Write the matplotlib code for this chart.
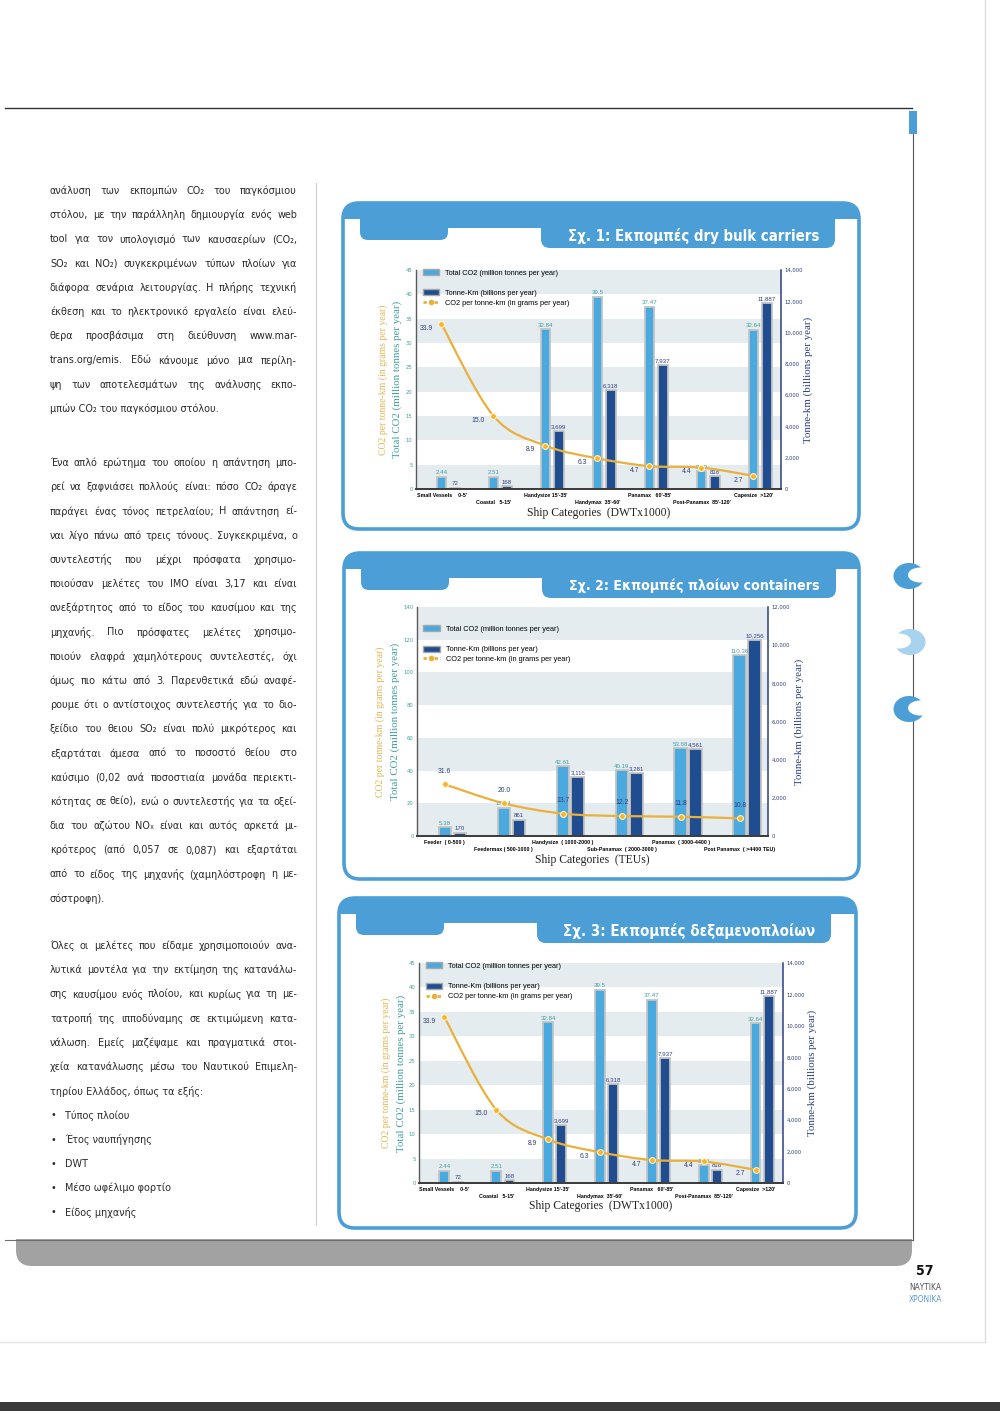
import os
import matplotlib
matplotlib.use('Agg')
import matplotlib.pyplot as plt
import matplotlib.font_manager as fm
import matplotlib.transforms as mtransforms
from matplotlib import ft2font
from matplotlib.patches import FancyBboxPatch, Rectangle, Ellipse, Patch, PathPatch
from matplotlib.lines import Line2D
from matplotlib.path import Path
import numpy as np

# ---- chart data ----
bulk_cats = ["Small Vessels    0-5'", "Coastal   5-15'", "Handysize 15'-35'", "Handymax  35'-60'",
             "Panamax   60'-85'", "Post-Panamax  85'-120'", "Capesize  >120'"]
bulk_total_co2 = [2.44, 2.51, 32.84, 39.5, 37.47, 3.63, 32.64]
bulk_tonne_km = [72, 168, 3699, 6318, 7937, 818, 11887]
bulk_co2_per_tkm = [33.9, 15.0, 8.9, 6.3, 4.7, 4.4, 2.7]

cont_cats = ["Feeder  ( 0-500 )", "Feedermax ( 500-1000 )", "Handysize  ( 1000-2000 )",
             "Sub-Panamax  ( 2000-3000 )", "Panamax  ( 3000-4400 )", "Post Panamax  ( >4400 TEU)"]
cont_total_co2 = [5.38, 17.24, 42.61, 40.19, 53.68, 110.36]
cont_tonne_km = [170, 861, 3116, 3281, 4561, 10256]
cont_co2_per_tkm = [31.6, 20.0, 13.7, 12.2, 11.8, 10.8]

tank_cats = list(bulk_cats)
tank_total_co2 = [2.44, 2.51, 32.84, 39.5, 37.47, 3.63, 32.64]
tank_tonne_km = [72, 168, 3699, 6318, 7937, 818, 11887]
tank_co2_per_tkm = [33.9, 15.0, 8.9, 6.3, 4.7, 4.4, 2.7]

legend_labels = ['Total CO2 (million tonnes per year)', 'Tonne-Km (billions per year)',
                 'CO2 per tonne-km (in grams per year)']

# ---- page text ----
par1 = ["ανάλυση των εκπομπών CO₂ του παγκόσμιου",
        "στόλου, με την παράλληλη δημιουργία ενός web",
        "tool για τον υπολογισμό των καυσαερίων (CO₂,",
        "SO₂ και NO₂) συγκεκριμένων τύπων πλοίων για",
        "διάφορα σενάρια λειτουργίας. Η πλήρης τεχνική",
        "έκθεση και το ηλεκτρονικό εργαλείο είναι ελεύ-",
        "θερα προσβάσιμα στη διεύθυνση www.mar-",
        "trans.org/emis. Εδώ κάνουμε μόνο μια περίλη-",
        "ψη των αποτελεσμάτων της ανάλυσης εκπο-",
        "μπών CO₂ του παγκόσμιου στόλου."]
par2 = ["Ένα απλό ερώτημα του οποίου η απάντηση μπο-",
        "ρεί να ξαφνιάσει πολλούς είναι: πόσο CO₂ άραγε",
        "παράγει ένας τόνος πετρελαίου; Η απάντηση εί-",
        "ναι λίγο πάνω από τρεις τόνους. Συγκεκριμένα, ο",
        "συντελεστής που μέχρι πρόσφατα χρησιμο-",
        "ποιούσαν μελέτες του ΙΜΟ είναι 3,17 και είναι",
        "ανεξάρτητος από το είδος του καυσίμου και της",
        "μηχανής. Πιο πρόσφατες μελέτες χρησιμο-",
        "ποιούν ελαφρά χαμηλότερους συντελεστές, όχι",
        "όμως πιο κάτω από 3. Παρενθετικά εδώ αναφέ-",
        "ρουμε ότι ο αντίστοιχος συντελεστής για το διο-",
        "ξείδιο του θειου SO₂ είναι πολύ μικρότερος και",
        "εξαρτάται άμεσα από το ποσοστό θείου στο",
        "καύσιμο (0,02 ανά ποσοστιαία μονάδα περιεκτι-",
        "κότητας σε θείο), ενώ ο συντελεστής για τα οξεί-",
        "δια του αζώτου NOₓ είναι και αυτός αρκετά μι-",
        "κρότερος (από 0,057 σε 0,087) και εξαρτάται",
        "από το είδος της μηχανής (χαμηλόστροφη η με-",
        "σόστροφη)."]
par3 = ["Όλες οι μελέτες που είδαμε χρησιμοποιούν ανα-",
        "λυτικά μοντέλα για την εκτίμηση της κατανάλω-",
        "σης καυσίμου ενός πλοίου, και κυρίως για τη με-",
        "τατροπή της ιπποδύναμης σε εκτιμώμενη κατα-",
        "νάλωση. Εμείς μαζέψαμε και πραγματικά στοι-",
        "χεία κατανάλωσης μέσω του Ναυτικού Επιμελη-",
        "τηρίου Ελλάδος, όπως τα εξής:"]
bullets = ["Τύπος πλοίου", "Έτος ναυπήγησης", "DWT", "Μέσο ωφέλιμο φορτίο", "Είδος μηχανής"]

# ---- fonts: a condensed face with Greek if one exists, else Liberation Sans ----
names = {f.name for f in fm.fontManager.ttflist}
SANS = 'Liberation Sans' if 'Liberation Sans' in names else 'DejaVu Sans'
SERIF = 'Liberation Serif' if 'Liberation Serif' in names else 'DejaVu Serif'


def has_greek(fname):
    try:
        cmap = ft2font.FT2Font(fname).get_charmap()
    except Exception:
        return False
    return ord('α') in cmap and ord('Ω') in cmap


def condensed_face(bold):
    found = []
    for f in fm.fontManager.ttflist:
        tag = f.name + ' ' + os.path.basename(f.fname)
        narrow = ('Narrow' in tag or 'Condensed' in tag or
                  str(f.stretch) in ('condensed', 'semi-condensed', 'extra-condensed', 'ultra-condensed'))
        if not narrow or f.style != 'normal' or 'Mono' in tag:
            continue
        w = f.weight if isinstance(f.weight, int) else fm.weight_dict.get(f.weight, 400)
        if bold != (w >= 600) or not has_greek(f.fname):
            continue
        found.append(f)
    if not found:
        return None
    f = found[0]
    return dict(family=[f.name, 'DejaVu Sans'], stretch=f.stretch, weight='bold' if bold else 'normal')


BODY = condensed_face(False) or dict(family=[SANS, 'DejaVu Sans'])
BOLD = condensed_face(True) or dict(family=[SANS, 'DejaVu Sans'], weight='bold')

FRAME = '#4b9fd6'
LIGHT = '#4aa9df'
DARK = '#1f4d8f'
BAR_EDGE = '#c4c4c4'
TEAL = '#3f9f9c'
GOLD = '#e2b656'
NAVY = '#2e3f7f'
ORANGE = '#e9b03c'
BAND = '#e5ecf0'
TXT = '#2a2a2a'

W, H = 1000, 1414
fig = plt.figure(figsize=(W / 100, H / 100), dpi=100)
fig.patch.set_facecolor('white')
pg = fig.add_axes([0, 0, 1, 1], zorder=0)
pg.set_xlim(0, W)
pg.set_ylim(H, 0)
pg.axis('off')
renderer = fig.canvas.get_renderer()


def px_rect(l, t, r, b):
    return [l / W, 1 - b / H, (r - l) / W, (b - t) / H]


def text_width(text, font, fs):
    t = pg.text(0, 0, text, fontsize=fs, **font)
    w = t.get_window_extent(renderer).width
    t.remove()
    return w


def fit_size(text, font, target, cap=12.0):
    return min(cap, 10.0 * target / text_width(text, font, 10.0))


# ---- page furniture ----
pg.plot([5, 912], [108, 108], color='#333333', lw=1.0)
pg.add_patch(Rectangle((909, 111), 8, 23, fc=FRAME, ec='none'))
pg.plot([913, 913], [134, 1240], color='#555555', lw=0.8)
pg.plot([316, 316], [183, 1225], color='#c0c0c0', lw=0.6)
pg.plot([985, 985], [0, 1342], color='#dddddd', lw=1.0)
pg.plot([0, 985], [1342, 1342], color='#e4e4e4', lw=1.0)
pg.add_patch(Rectangle((0, 1402), W, 9, fc='#3a3a3a', ec='none'))

clip = Rectangle((0, 1239), 940, 40, transform=pg.transData)
band = FancyBboxPatch((16, 1205), 896, 61, boxstyle='round,pad=0,rounding_size=16',
                      fc='#a2a2a2', ec='none')
pg.add_patch(band)
band.set_clip_path(clip)
pg.plot([5, 912], [1239.5, 1239.5], color='#6e6e6e', lw=0.8)

pg.text(925, 1271, '57', fontsize=10, ha='center', va='center', color='#111111', **BOLD)
pg.text(925, 1287, 'ΝΑΥΤΙΚΑ', fontsize=6, ha='center', va='center', color='#555555', **BODY)
pg.text(925, 1299, 'ΧΡΟΝΙΚΑ', fontsize=6, ha='center', va='center', color='#5a9bd5', **BODY)

for cx, cy, col, dx in [(909, 576, FRAME, 11), (910, 642, '#a8d3ef', -11), (909, 709, FRAME, 11)]:
    pg.add_patch(Ellipse((cx, cy), 31, 26, fc=col, ec='none', zorder=4))
    pg.add_patch(Ellipse((cx + dx, cy - 1), 24, 15, fc='white', ec='none', zorder=4))


# ---- justified text column ----
def justify(lines, x0, x1, y, dy, fs):
    for k, line in enumerate(lines):
        yy = y + k * dy
        words = line.split(' ')
        if k == len(lines) - 1 or len(words) == 1:
            pg.text(x0, yy, line, fontsize=fs, color=TXT, va='center_baseline', **BODY)
            continue
        objs = [pg.text(x0, yy, w, fontsize=fs, color=TXT, va='center_baseline', **BODY) for w in words]
        widths = [o.get_window_extent(renderer).width for o in objs]
        gap = (x1 - x0 - sum(widths)) / (len(words) - 1)
        x = x0
        for o, wd in zip(objs, widths):
            o.set_x(x)
            x += wd + gap


widest = max(text_width(s, BODY, 10.0) for s in par1[:-1] + par2[:-1] + par3[:-1])
body_fs = min(11.0, 10.0 * 244 / widest)

LX0, LX1, DY = 50, 297, 24.2
justify(par1, LX0, LX1, 190, DY, body_fs)
justify(par2, LX0, LX1, 462, DY, body_fs)
justify(par3, LX0, LX1, 945, DY, body_fs)
for k, b in enumerate(bullets):
    yy = 945 + (len(par3) + k) * DY
    pg.text(53, yy, '•', fontsize=body_fs, color=TXT, ha='center', va='center_baseline', **BODY)
    pg.text(65, yy, b, fontsize=body_fs, color=TXT, va='center_baseline', **BODY)


# ---- panels ----
def panel(x0, y0, x1, y1, title):
    frame = FancyBboxPatch((x0, y0), x1 - x0, y1 - y0, boxstyle='round,pad=0,rounding_size=16',
                           fc='white', ec=FRAME, lw=2.6, zorder=2)
    pg.add_patch(frame)
    parts = [Rectangle((x0, y0), x1 - x0, 16),
             Rectangle((x0 + 17, y0), 475, 25),
             FancyBboxPatch((x0 + 17, y0 - 20), 88, 57, boxstyle='round,pad=0,rounding_size=8'),
             FancyBboxPatch((x0 + 198, y0 - 20), 294, 65, boxstyle='round,pad=0,rounding_size=9')]
    for p in parts:
        p.set_facecolor(FRAME)
        p.set_edgecolor('none')
        p.set_zorder(3)
        pg.add_patch(p)
        p.set_clip_path(frame)
    fs = fit_size(title, BOLD, 250, cap=12.5)
    pg.text(x0 + 476, y0 + 33, title, fontsize=fs, color='white', ha='right', va='center',
            zorder=5, **BOLD)


panel(343, 203, 859, 529, 'Σχ. 1: Εκπομπές dry bulk carriers')
panel(344, 553, 859, 879, 'Σχ. 2: Εκπομπές πλοίων containers')
panel(339, 898, 856, 1228, 'Σχ. 3: Εκπομπές δεξαμενοπλοίων')


def smooth(xs, ys):
    pts = np.column_stack([xs, ys]).astype(float)
    n = len(pts)
    verts, codes = [pts[0]], [Path.MOVETO]
    for i in range(n - 1):
        p0, p1, p2, p3 = pts[max(i - 1, 0)], pts[i], pts[i + 1], pts[min(i + 2, n - 1)]
        verts += [p1 + (p2 - p0) / 6, p2 - (p3 - p1) / 6, p2]
        codes += [Path.CURVE4] * 3
    return Path(verts, codes)


def chart(box, cats, total, tkm, per_tkm, lmax, lstep, rmax, width, offset, xlim,
          leg_y, line_off, xlabel, lab_x, xlab_y):
    l, t, r, b = box
    ax = fig.add_axes(px_rect(l, t, r, b))
    ax2 = ax.twinx()
    ax.set_zorder(3)
    ax2.set_zorder(2)
    ax.patch.set_visible(False)
    ax2.patch.set_facecolor('white')

    x = np.arange(len(cats))
    ax.set_xlim(*xlim)
    ax.set_ylim(0, lmax)
    ax2.set_ylim(0, rmax)

    tr = mtransforms.blended_transform_factory(ax2.transAxes, ax.transData)
    for lo in np.arange(0, lmax, 2 * lstep):
        ax2.add_patch(Rectangle((0, lo), 1, lstep, transform=tr, fc=BAND, ec='none', zorder=0))

    b1 = ax.bar(x, total, width, color=LIGHT, edgecolor=BAR_EDGE, linewidth=1.3, zorder=2)
    b2 = ax2.bar(x + offset, tkm, width, color=DARK, edgecolor=BAR_EDGE, linewidth=1.3, zorder=2)
    ax.bar_label(b1, labels=[f'{v:g}' for v in total], padding=1.2, fontsize=4.4,
                 color=TEAL, family=SANS)
    ax2.bar_label(b2, labels=[f'{v:,}' for v in tkm], padding=1.2, fontsize=4.4,
                  color=NAVY, family=SANS)

    ax.add_patch(PathPatch(smooth(x, per_tkm), fc='none', ec=ORANGE, lw=1.6, zorder=4))
    ax.plot(x, per_tkm, 'o', ms=4.2, mfc='#f3b52e', mec='#fff2cc', mew=0.8, zorder=5)
    for xi, v in zip(x, per_tkm):
        ax.annotate(f'{v:.1f}', (xi, v), xytext=line_off, textcoords='offset points',
                    ha='center', va='center', fontsize=4.9, color=NAVY, family=SANS, zorder=6)

    ax.set_yticks(np.arange(0, lmax + 1, lstep))
    ax.tick_params(axis='y', length=0, pad=2.5, labelsize=3.8, labelcolor=TEAL)
    ax2.set_yticks(np.arange(0, rmax + 1, 2000))
    ax2.set_yticklabels([f'{int(v):,}' for v in np.arange(0, rmax + 1, 2000)])
    ax2.tick_params(axis='y', length=0, pad=2.5, labelsize=3.8, labelcolor=NAVY)
    ax.set_xticks(x)
    ax.set_xticklabels([])
    ax.tick_params(axis='x', length=0)
    xt = mtransforms.blended_transform_factory(ax.transData, ax.transAxes)
    for i, c in enumerate(cats):
        ax.annotate(c, (i, 0), xycoords=xt, xytext=(0, -4.6 if i % 2 == 0 else -9.4),
                    textcoords='offset points', ha='center', va='center', fontsize=3.8,
                    weight='bold', family=SANS, annotation_clip=False)

    for s in ['top', 'right']:
        ax.spines[s].set_visible(False)
    for s in ['top', 'left', 'bottom']:
        ax2.spines[s].set_visible(False)
    ax.spines['left'].set(color='#5a5a5a', lw=1.0)
    ax.spines['bottom'].set(color='#3a3a3a', lw=1.4)
    ax2.spines['right'].set(color=NAVY, lw=1.1)

    h1 = Patch(fc=LIGHT, ec='#a8a8a8', lw=1.0)
    h2 = Patch(fc=DARK, ec='#a8a8a8', lw=1.0)
    h3 = Line2D([], [], color=ORANGE, lw=2.0, ls=(0, (1.2, 0.8)), marker='o', ms=3, mfc=ORANGE, mec=ORANGE)
    kw = dict(loc='center left', frameon=False, handlelength=2.2, handleheight=0.9,
              handletextpad=0.9, borderpad=0, borderaxespad=0, prop={'family': SANS, 'size': 5.3})
    leg1 = ax.legend([h1], legend_labels[:1], bbox_to_anchor=(0.018, leg_y[0]), **kw)
    ax.add_artist(leg1)
    ax.legend([h2, h3], legend_labels[1:], bbox_to_anchor=(0.018, (leg_y[1] + leg_y[2]) / 2),
              labelspacing=0.35, **kw)

    cy = (t + b) / 2
    gx, tx, rx = lab_x
    pg.text(gx, cy, 'CO2 per tonne-km (in grams per year)', rotation=90, ha='center', va='center',
            family=SERIF, fontsize=7, color=GOLD)
    pg.text(tx, cy, 'Total CO2 (million tonnes per year)', rotation=90, ha='center', va='center',
            family=SERIF, fontsize=7.8, color=TEAL)
    pg.text(rx, cy, 'Tonne-km (billions per year)', rotation=90, ha='center', va='center',
            family=SERIF, fontsize=7.8, color=NAVY)
    pg.text((l + r) / 2, xlab_y, xlabel, ha='center', va='center', family=SERIF, fontsize=8.4,
            color='#222222')


chart((416, 270, 781, 489), bulk_cats, bulk_total_co2, bulk_tonne_km, bulk_co2_per_tkm,
      45, 5, 14000, 0.19, 0.256, (-0.49, 6.53), (0.986, 0.895, 0.849), (-11, -3),
      'Ship Categories  (DWTx1000)', (383, 397, 808), 513)
chart((417, 607, 768, 836), cont_cats, cont_total_co2, cont_tonne_km, cont_co2_per_tkm,
      140, 20, 12000, 0.21, 0.254, (-0.47, 5.48), (0.904, 0.817, 0.769), (0, 9.5),
      'Ship Categories  (TEUs)', (380, 395, 799), 860)
chart((419, 963, 783, 1183), tank_cats, tank_total_co2, tank_tonne_km, tank_co2_per_tkm,
      45, 5, 14000, 0.19, 0.256, (-0.49, 6.53), (0.986, 0.895, 0.845), (-11, -3),
      'Ship Categories  (DWTx1000)', (386, 401, 812), 1206)

fig.savefig('out.png', dpi=100)
